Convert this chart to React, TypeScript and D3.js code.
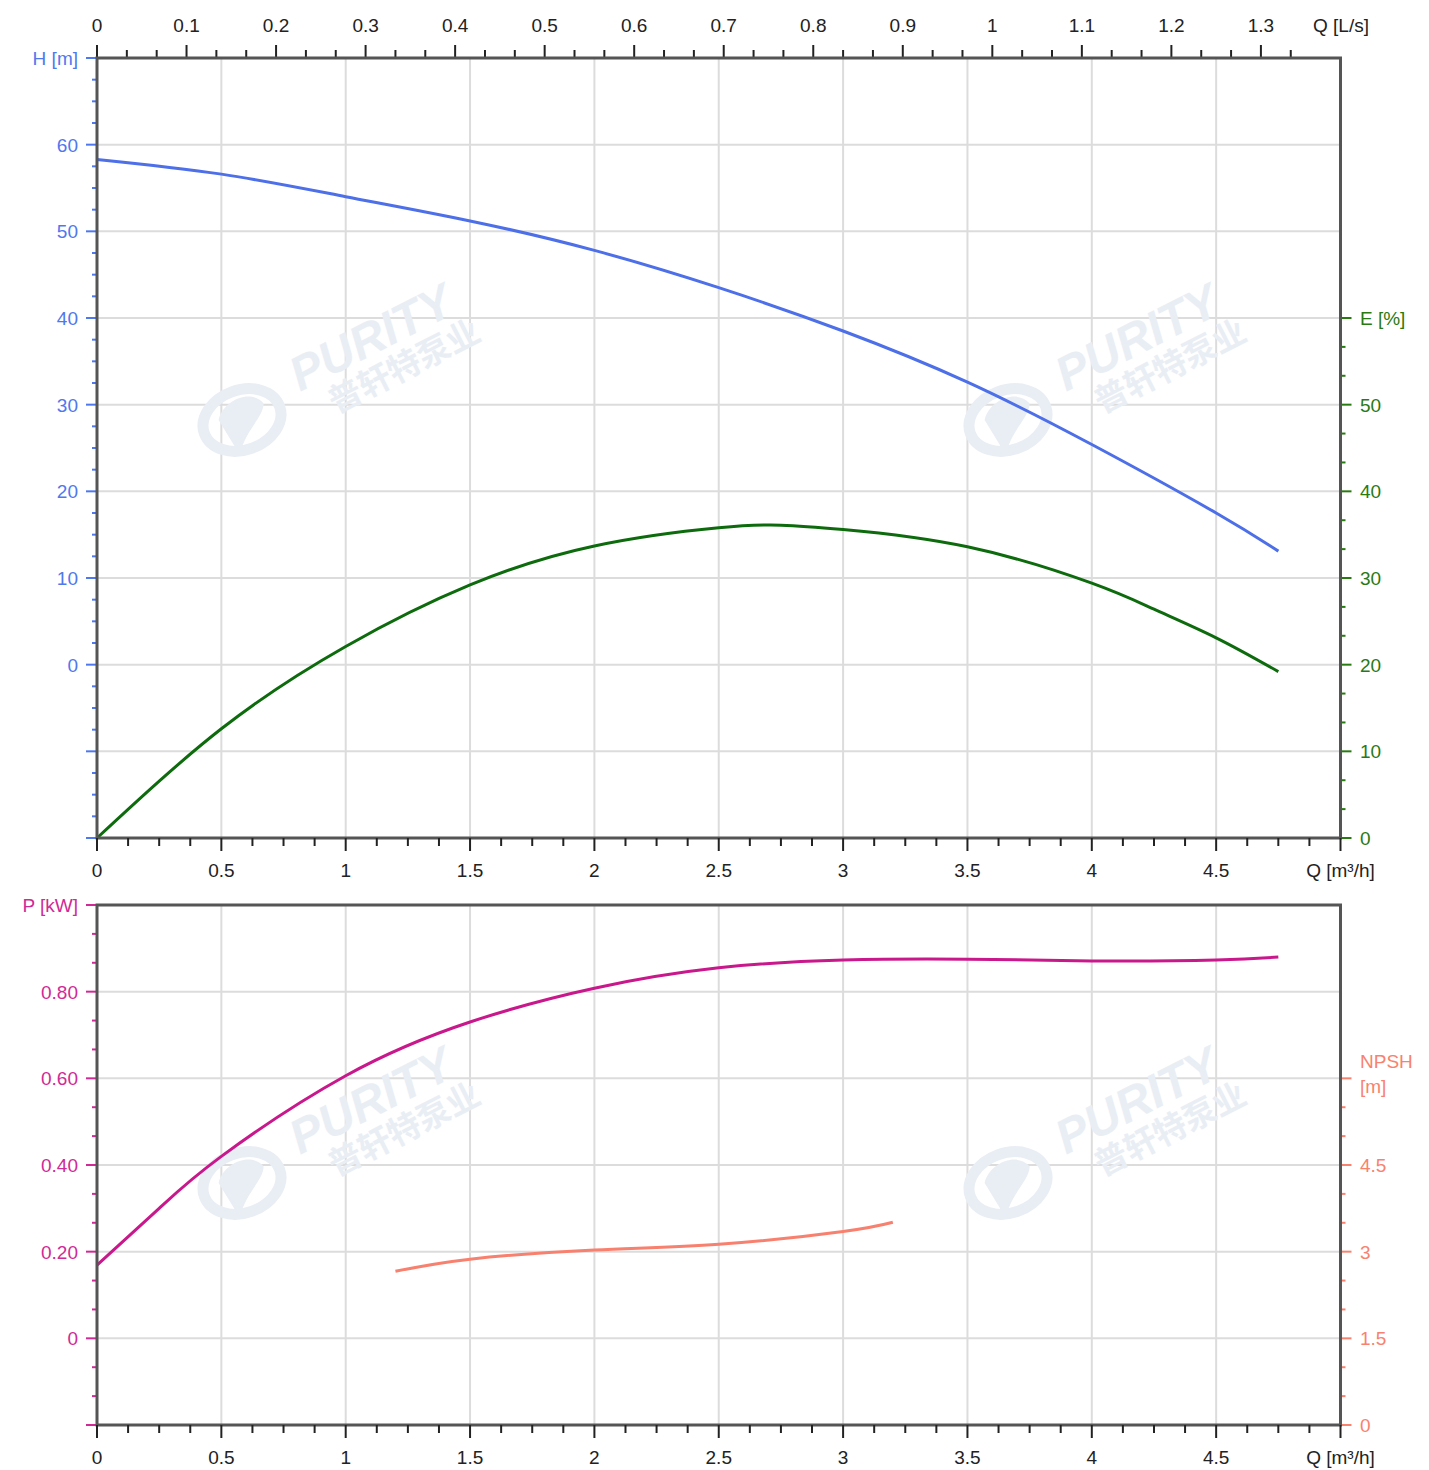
import * as React from "react";
import * as d3 from "d3";

// pump curves
const flowH = [0, 0.5, 1, 1.5, 2, 2.5, 3, 3.5, 4, 4.5, 4.75];
const head = [58.3, 56.6, 54.0, 51.2, 47.8, 43.5, 38.5, 32.6, 25.4, 17.5, 13.1];

const flowE = [0, 0.5, 1, 1.5, 2, 2.5, 2.75, 3, 3.5, 4, 4.25, 4.5, 4.75];
const efficiency = [0, 12.6, 22.1, 29.2, 33.7, 35.8, 36.1, 35.6, 33.6, 29.4, 26.4, 23.1, 19.2];

const flowP = [0, 0.25, 0.5, 1, 1.5, 2, 2.5, 3, 3.5, 4, 4.5, 4.75];
const power = [0.169, 0.30, 0.42, 0.606, 0.73, 0.808, 0.855, 0.873, 0.875, 0.871, 0.873, 0.88];

const flowN = [1.2, 1.5, 2, 2.5, 3, 3.2];
const npsh = [2.66, 2.87, 3.03, 3.13, 3.35, 3.51];

// tick labels
const qTicks = [0, 0.5, 1, 1.5, 2, 2.5, 3, 3.5, 4, 4.5];
const lsTicks = [0, 0.1, 0.2, 0.3, 0.4, 0.5, 0.6, 0.7, 0.8, 0.9, 1, 1.1, 1.2, 1.3];
const hTicks = [0, 10, 20, 30, 40, 50, 60];
const eTicks = [0, 10, 20, 30, 40, 50];
const pTicks = [0, 0.2, 0.4, 0.6, 0.8];
const nTicks = [0, 1.5, 3, 4.5];

const FONT = "'Liberation Sans', Arial, sans-serif";
const FS = 19;
const AXIS = "#555";
const GRID = "#dcdcdc";
const C_H = "#4d6fe8", C_HT = "#4f78ee";
const C_E = "#0d6b0d", C_ET = "#2a7a12";
const C_P = "#c8188c", C_PT = "#d02a96";
const C_N = "#f8806f", C_NT = "#f9826f";

const L = 97, R = 1340.5;
const T1 = 58, B1 = 838, T2 = 905, B2 = 1425;

const x = d3.scaleLinear().domain([0, 5]).range([L, R]);
const xLs = d3.scaleLinear().domain([0, 5 / 3.6]).range([L, R]);
const yH = d3.scaleLinear().domain([-20, 70]).range([B1, T1]);
const yE = d3.scaleLinear().domain([0, 90]).range([B1, T1]);
const yP = d3.scaleLinear().domain([-0.2, 1.0]).range([B2, T2]);
const yN = d3.scaleLinear().domain([0, 9]).range([B2, T2]);

function curve(xs: number[], ys: number[], yScale: d3.ScaleLinear<number, number>) {
  const pts = xs.map((q, i) => [q, ys[i]] as [number, number]);
  return d3.line<[number, number]>()
    .x(d => x(d[0]))
    .y(d => yScale(d[1]))
    .curve(d3.curveNatural)(pts) || "";
}

function Watermark({ tx, ty }: { tx: number; ty: number }) {
  const c = "#e9eef5";
  return (
    <g transform={`translate(${tx},${ty})`} fill={c} pointerEvents="none">
      <g transform="translate(-58,28) rotate(-20)">
        <ellipse cx={0} cy={0} rx={40} ry={30} fill="none" stroke={c} strokeWidth={11} />
        <path d="M-22,-8 C-10,-26 20,-26 26,-8 C20,6 0,10 -14,32 Z" fill={c} />
      </g>
      <g transform="rotate(-27)">
        <text x={0} y={0} fontFamily={FONT} fontWeight="bold" fontStyle="italic" fontSize={48}>PURITY</text>
        <text x={22} y={36} fontFamily="'Noto Sans CJK SC', sans-serif" fontWeight="bold" fontSize={33}>普轩特泵业</text>
      </g>
    </g>
  );
}

function Panel({ top, bottom, hLines }: { top: number; bottom: number; hLines: number[] }) {
  return (
    <g>
      {qTicks.concat([5]).map(q => (
        <line key={"v" + q} x1={x(q)} x2={x(q)} y1={top} y2={bottom} stroke={GRID} strokeWidth={2} />
      ))}
      {hLines.map(y => (
        <line key={"h" + y} x1={L} x2={R} y1={y} y2={y} stroke={GRID} strokeWidth={2} />
      ))}
    </g>
  );
}

function BottomAxis({ y }: { y: number }) {
  const minor = d3.range(0, 5.0001, 0.125);
  return (
    <g>
      {minor.map(q => {
        const major = Math.abs(q * 2 - Math.round(q * 2)) < 1e-6;
        return <line key={q} x1={x(q)} x2={x(q)} y1={y} y2={y + (major ? 13 : 8)} stroke="#222" strokeWidth={2} />;
      })}
      {qTicks.map(q => (
        <text key={"t" + q} x={x(q)} y={y + 39} textAnchor="middle" fontFamily={FONT} fontSize={FS} fill="#222">{q}</text>
      ))}
      <text x={x(5)} y={y + 39} textAnchor="middle" fontFamily={FONT} fontSize={FS} fill="#222">Q [m³/h]</text>
    </g>
  );
}

function SideTicks({ side, scale, from, to, step, major, color }:
  { side: "left" | "right"; scale: d3.ScaleLinear<number, number>; from: number; to: number; step: number; major: number; color: string }) {
  const xs = side === "left" ? L : R;
  const dir = side === "left" ? -1 : 1;
  const vals = d3.range(from, to + step / 2, step);
  return (
    <g>
      {vals.map(v => {
        const isMajor = Math.abs(v / major - Math.round(v / major)) < 1e-6;
        return <line key={v} x1={xs} x2={xs + dir * (isMajor ? 11 : 5)} y1={scale(v)} y2={scale(v)} stroke={color} strokeWidth={2} />;
      })}
    </g>
  );
}

export default function App() {
  const topGrid = d3.range(-10, 70, 10).map(v => yH(v));
  const botGrid = d3.range(0, 1.0, 0.2).map(v => yP(v));
  const lsMinor = d3.range(0, 1.3501, 0.1 / 3);

  return (
    <svg width={1429} height={1470} style={{ position: "absolute", left: 0, top: 0, background: "#fff" }}>
      <rect x={0} y={0} width={1429} height={1470} fill="#fff" />

      <Panel top={T1} bottom={B1} hLines={topGrid} />
      <Panel top={T2} bottom={B2} hLines={botGrid} />

      <Watermark tx={300} ty={392} />
      <Watermark tx={1066} ty={392} />
      <Watermark tx={300} ty={1155} />
      <Watermark tx={1066} ty={1155} />

      {/* top axis in L/s */}
      {lsMinor.map(v => {
        const major = Math.abs(v * 10 - Math.round(v * 10)) < 1e-6;
        return <line key={"ls" + v} x1={xLs(v)} x2={xLs(v)} y1={T1} y2={T1 - (major ? 13 : 8)} stroke="#222" strokeWidth={2} />;
      })}
      {lsTicks.map(v => (
        <text key={"lst" + v} x={xLs(v)} y={32} textAnchor="middle" fontFamily={FONT} fontSize={FS} fill="#222">{v}</text>
      ))}
      <text x={1341} y={32} textAnchor="middle" fontFamily={FONT} fontSize={FS} fill="#222">Q [L/s]</text>

      {/* H axis */}
      <SideTicks side="left" scale={yH} from={-20} to={70} step={2.5} major={10} color={C_HT} />
      {hTicks.map(v => (
        <text key={"h" + v} x={78} y={yH(v) + 7} textAnchor="end" fontFamily={FONT} fontSize={FS} fill={C_HT}>{v}</text>
      ))}
      <text x={78} y={T1 + 7} textAnchor="end" fontFamily={FONT} fontSize={FS} fill={C_HT}>H [m]</text>

      {/* E axis */}
      <SideTicks side="right" scale={yE} from={0} to={60} step={10 / 3} major={10} color={C_ET} />
      {eTicks.map(v => (
        <text key={"e" + v} x={1360} y={yE(v) + 7} fontFamily={FONT} fontSize={FS} fill={C_ET}>{v}</text>
      ))}
      <text x={1360} y={yE(60) + 7} fontFamily={FONT} fontSize={FS} fill={C_ET}>E [%]</text>

      {/* P axis */}
      <SideTicks side="left" scale={yP} from={-0.2} to={1.0} step={0.2 / 3} major={0.2} color={C_PT} />
      {pTicks.map(v => (
        <text key={"p" + v} x={78} y={yP(v) + 7} textAnchor="end" fontFamily={FONT} fontSize={FS} fill={C_PT}>{v === 0 ? "0" : v.toFixed(2)}</text>
      ))}
      <text x={78} y={T2 + 7} textAnchor="end" fontFamily={FONT} fontSize={FS} fill={C_PT}>P [kW]</text>

      {/* NPSH axis */}
      <SideTicks side="right" scale={yN} from={0} to={6} step={0.5} major={1.5} color={C_NT} />
      {nTicks.map(v => (
        <text key={"n" + v} x={1360} y={yN(v) + 7} fontFamily={FONT} fontSize={FS} fill={C_NT}>{v}</text>
      ))}
      <text x={1360} y={yN(6) - 10} fontFamily={FONT} fontSize={FS} fill={C_NT}>NPSH</text>
      <text x={1360} y={yN(6) + 15} fontFamily={FONT} fontSize={FS} fill={C_NT}>[m]</text>

      {/* curves */}
      <path d={curve(flowH, head, yH)} fill="none" stroke={C_H} strokeWidth={3} />
      <path d={curve(flowE, efficiency, yE)} fill="none" stroke={C_E} strokeWidth={3} />
      <path d={curve(flowP, power, yP)} fill="none" stroke={C_P} strokeWidth={3} />
      <path d={curve(flowN, npsh, yN)} fill="none" stroke={C_N} strokeWidth={3} />

      {/* frames */}
      <rect x={L} y={T1} width={R - L} height={B1 - T1} fill="none" stroke={AXIS} strokeWidth={3} />
      <rect x={L} y={T2} width={R - L} height={B2 - T2} fill="none" stroke={AXIS} strokeWidth={3} />

      <BottomAxis y={B1} />
      <BottomAxis y={B2} />
    </svg>
  );
}
